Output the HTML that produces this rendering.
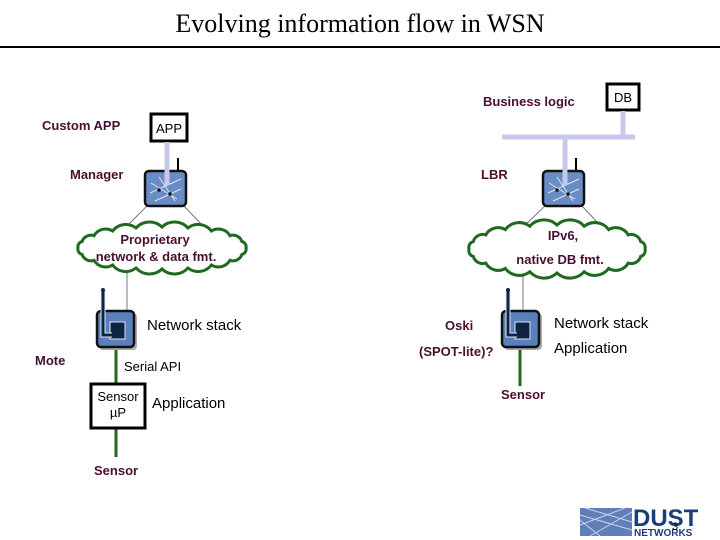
<!DOCTYPE html>
<html><head><meta charset="utf-8"><style>
html,body{margin:0;padding:0;background:#fff;}
svg{display:block;}
.b{font-family:"Liberation Sans",sans-serif;font-weight:bold;fill:#4a0f2f;font-size:13px;}
.n{font-family:"Liberation Sans",sans-serif;fill:#000;}
</style></head><body>
<svg id="s" width="720" height="540" viewBox="0 0 720 540" xmlns="http://www.w3.org/2000/svg">
<text x="360" y="32" text-anchor="middle" font-family="Liberation Serif,serif" font-size="26">Evolving information flow in WSN</text>
<line x1="0" y1="47" x2="720" y2="47" stroke="#000" stroke-width="2"/>

<text class="b" x="42" y="130">Custom APP</text>
<rect x="151" y="114" width="36" height="27" fill="#fff" stroke="#000" stroke-width="3"/>
<text class="n" x="169" y="133" text-anchor="middle" font-size="13">APP</text>
<line x1="167" y1="142" x2="167" y2="190" stroke="#c8c8ee" stroke-width="5"/>
<text class="b" x="70" y="179">Manager</text>

<text class="b" x="483" y="106">Business logic</text>
<rect x="607" y="84" width="32" height="26" fill="#fff" stroke="#000" stroke-width="3"/>
<text class="n" x="623" y="102" text-anchor="middle" font-size="13">DB</text>
<line x1="623" y1="111" x2="623" y2="137" stroke="#c8c8ee" stroke-width="5"/>
<line x1="502" y1="137" x2="635" y2="137" stroke="#c8c8ee" stroke-width="5"/>
<line x1="565" y1="137" x2="565" y2="190" stroke="#c8c8ee" stroke-width="5"/>
<text class="b" x="481" y="179">LBR</text>

<line x1="148" y1="205" x2="125" y2="228" stroke="#777" stroke-width="1"/>
<line x1="183" y1="205" x2="205" y2="228" stroke="#777" stroke-width="1"/>
<line x1="546" y1="205" x2="522" y2="228" stroke="#777" stroke-width="1"/>
<line x1="581" y1="205" x2="600" y2="225" stroke="#777" stroke-width="1"/>
<line x1="127" y1="268" x2="127" y2="313" stroke="#777" stroke-width="1"/>
<line x1="523" y1="274" x2="523" y2="313" stroke="#777" stroke-width="1"/>

<g id="clouds"></g>
<text class="b" x="155" y="244" text-anchor="middle">Proprietary</text>
<text class="b" x="156" y="261" text-anchor="middle">network &amp; data fmt.</text>
<text class="b" x="563" y="240" text-anchor="middle">IPv6,</text>
<text class="b" x="560" y="264" text-anchor="middle">native DB fmt.</text>

<g id="routers"></g>

<line x1="116" y1="348" x2="116" y2="384" stroke="#1f6a1f" stroke-width="3"/>
<line x1="116" y1="428" x2="116" y2="457" stroke="#1f6a1f" stroke-width="3"/>
<text class="n" x="147" y="330" font-size="15">Network stack</text>
<text class="b" x="35" y="365">Mote</text>
<text class="n" x="124" y="371" font-size="13">Serial API</text>
<rect x="91" y="384" width="54" height="44" fill="#fff" stroke="#000" stroke-width="3"/>
<text class="n" x="118" y="401" text-anchor="middle" font-size="13">Sensor</text>
<text class="n" x="118" y="417" text-anchor="middle" font-size="13">µP</text>
<text class="n" x="152" y="408" font-size="15">Application</text>
<text class="b" x="94" y="475" font-size="12">Sensor</text>

<line x1="520" y1="350" x2="520" y2="386" stroke="#1f6a1f" stroke-width="3"/>
<text class="b" x="445" y="330">Oski</text>
<text class="b" x="419" y="356">(SPOT-lite)?</text>
<text class="n" x="554" y="328" font-size="15">Network stack</text>
<text class="n" x="554" y="353" font-size="15">Application</text>
<text class="b" x="501" y="399" font-size="12">Sensor</text>

<g id="motes"></g>

<rect x="580" y="508" width="52" height="28" fill="#5f7fb8"/>
<path d="M580 515 L632 530 M580 525 L625 508 M590 536 L632 512 M585 508 L632 522 M600 536 L580 520" stroke="#c8d4ee" stroke-width="1" fill="none"/>
<text x="633" y="526" font-family="Liberation Sans,sans-serif" font-weight="bold" font-size="24" fill="#1c3d7a">DUST</text>
<text x="634" y="536" font-family="Liberation Sans,sans-serif" font-weight="bold" font-size="10" fill="#1c3d7a">NETWORKS</text>
<text x="672" y="530" font-family="Liberation Sans,sans-serif" font-size="11" fill="#000">3</text>
</svg>
<script>
var NS="http://www.w3.org/2000/svg";
function el(t,a,p){var e=document.createElementNS(NS,t);for(var k in a)e.setAttribute(k,a[k]);p.appendChild(e);return e;}
function cloud(cx,cy,rx,ry,n){
  var pts=[];for(var i=0;i<n;i++){var a=i/n*2*Math.PI;pts.push([cx+rx*Math.cos(a),cy+ry*Math.sin(a)]);}
  var d="M"+pts[0][0].toFixed(1)+" "+pts[0][1].toFixed(1);
  for(var i=1;i<=n;i++){var p=pts[i%n],q=pts[i-1];var r=Math.hypot(p[0]-q[0],p[1]-q[1])*0.7;
    d+=" A"+r.toFixed(1)+" "+r.toFixed(1)+" 0 0 1 "+p[0].toFixed(1)+" "+p[1].toFixed(1);}
  el("path",{d:d+"Z",fill:"#fff",stroke:"#1f6a1f","stroke-width":3},document.getElementById("clouds"));
}
cloud(162,248,84,21,20);
cloud(557,249,88,24,20);
function router(x,y){
  var g=document.getElementById("routers");
  el("line",{x1:x+33,y1:y-13,x2:x+33,y2:y,stroke:"#000","stroke-width":2},g);
  el("rect",{x:x,y:y,width:41,height:35,rx:4,fill:"#6a8cc4",stroke:"#111","stroke-width":2.5},g);
  el("path",{d:"M"+(x+5)+" "+(y+22)+" L"+(x+36)+" "+(y+8)+" M"+(x+6)+" "+(y+12)+" L"+(x+32)+" "+(y+28)+" M"+(x+10)+" "+(y+30)+" L"+(x+36)+" "+(y+18)+" M"+(x+14)+" "+(y+6)+" L"+(x+30)+" "+(y+30),stroke:"#dde6f7","stroke-width":1,fill:"none"},g);
  [[21,11],[14,19],[25,23]].forEach(function(c){el("rect",{x:x+c[0]-1.5,y:y+c[1]-1.5,width:3,height:3,fill:"#000"},g);});
  el("line",{x1:x+22,y1:y-20,x2:x+22,y2:y+14,stroke:"#c8c8ee","stroke-width":5},g);
}
router(145,171);router(543,171);
function mote(x,y){
  var g=document.getElementById("motes");
  el("rect",{x:x+2,y:y+2,width:38,height:37,rx:4,fill:"#aaa"},g);
  el("rect",{x:x,y:y,width:37,height:36,rx:4,fill:"#5a7fbf",stroke:"#111","stroke-width":2.5},g);
  el("rect",{x:x+13,y:y+11,width:15,height:17,fill:"#0d2540",stroke:"#dfe6f3","stroke-width":1},g);
  el("path",{d:"M"+(x+6)+" "+(y-21)+" L"+(x+6)+" "+(y+24)+" L"+(x+15)+" "+(y+24),stroke:"#dfe6f3","stroke-width":5,fill:"none"},g);
  el("path",{d:"M"+(x+6)+" "+(y-21)+" L"+(x+6)+" "+(y+24)+" L"+(x+15)+" "+(y+24),stroke:"#0d2540","stroke-width":3,fill:"none"},g);
  el("circle",{cx:x+6,cy:y-21,r:2,fill:"#0d2540"},g);
}
mote(97,311);mote(502,311);
</script>
</body></html>
